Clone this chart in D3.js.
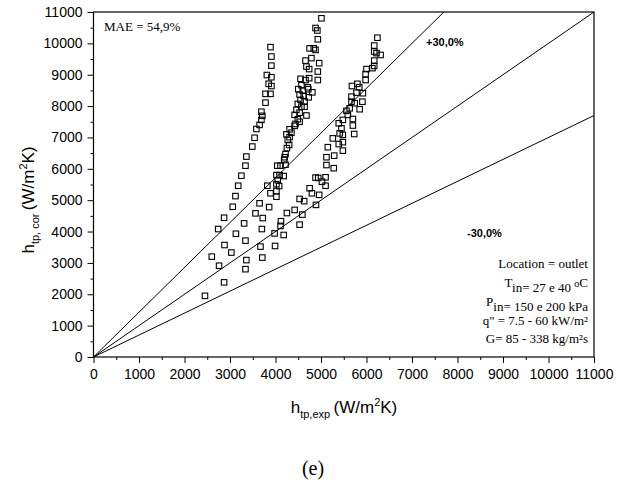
<!DOCTYPE html>
<html lang="en">
<head>
<meta charset="UTF-8" />
<title>h_tp,cor vs h_tp,exp</title>
<script src="https://d3js.org/d3.v7.min.js"></script>
<style>
    body { margin: 0; background: #fff; }
    .tick text { font-family: "Liberation Sans", Arial, sans-serif; font-size: 14px; fill: #000; }
    .tick line { stroke: #000; stroke-width: 1px; }
    .note { font-family: "Liberation Serif", "Times New Roman", serif; font-size: 13px; fill: #000; }
    .axis-title { font-family: "Liberation Sans", Arial, sans-serif; font-size: 17px; fill: #000; }
    .band-label { font-family: "Liberation Sans", Arial, sans-serif; font-size: 11px; font-weight: bold; fill: #000; }
</style>
</head>
<body>
<div id="chart"></div>
<script>
    // axis ticks (W/m2K)
    const majorTicks = [0, 1000, 2000, 3000, 4000, 5000, 6000, 7000, 8000, 9000, 10000, 11000];
    const minorTicks = [500, 1500, 2500, 3500, 4500, 5500, 6500, 7500, 8500, 9500, 10500];

    // deviation lines: h_cor = ratio * h_exp
    const bandRatios = [1 / 0.7, 1, 0.7];

    // [h_tp,exp , h_tp,cor]
    const leftGroup = [
        [3890, 9880], [3910, 9580], [3910, 9290], [3810, 8990], [3910, 8920], [3850, 8710],
        [3910, 8640], [3780, 8390], [3890, 8390], [3780, 8110], [3690, 7820], [3710, 7690],
        [3690, 7560], [3650, 7400], [3580, 7270], [3540, 6990], [3490, 6710], [3360, 6390],
        [3340, 6100], [3250, 5780], [3180, 5460], [3120, 5130], [3060, 4790], [2870, 4440],
        [2740, 4080], [2880, 3570], [2600, 3200], [2760, 2910], [2870, 2380], [2450, 1950],
        [3030, 3330], [3130, 3930], [3310, 4260], [3340, 3710], [3360, 3090], [3340, 2800]
    ];

    const middleGroup = [
        [5010, 10800], [4880, 10490], [4920, 10410], [4930, 10130], [4750, 9840], [4840, 9840],
        [4880, 9790], [4660, 9450], [4790, 9530], [4960, 9370], [4680, 9260], [4740, 9180],
        [4930, 9100], [4550, 8870], [4660, 8830], [4740, 8890], [4930, 8830], [4570, 8670],
        [4710, 8600], [4500, 8540], [4600, 8490], [4720, 8540], [4810, 8440], [4530, 8360],
        [4620, 8330], [4730, 8280], [4550, 8200], [4640, 8140], [4490, 8070], [4570, 7980],
        [4640, 7980], [4460, 7880], [4530, 7790], [4420, 7720], [4680, 7700], [4490, 7580],
        [4530, 7500], [4440, 7430], [4420, 7370], [4310, 7260], [4350, 7150], [4240, 7100],
        [4310, 7010], [4270, 6920], [4300, 6760], [4250, 6660], [4220, 6470], [4200, 6370],
        [4190, 6280], [4110, 6100], [4040, 6100], [4220, 6130], [4020, 5800], [4090, 5800],
        [4180, 5770], [4050, 5640], [4020, 5510], [4080, 5450], [3890, 5220], [4020, 5290],
        [4020, 5110], [3820, 5460], [3860, 4780], [3980, 3940], [3990, 3540], [4180, 3890],
        [4110, 4180], [4120, 4330], [3650, 4900], [3560, 4580], [3720, 4430], [3700, 4080],
        [3670, 3520], [3710, 3170]
    ];

    const rightGroup = [
        [6240, 10180], [6170, 9930], [6170, 9740], [6220, 9690], [6310, 9630], [6170, 9450],
        [6000, 9180], [6130, 9210], [6170, 9280], [5980, 9020], [5980, 8830], [5680, 8640],
        [5800, 8710], [5840, 8600], [5920, 8410], [5670, 8300], [5780, 8430], [5670, 8140],
        [5740, 8090], [5910, 8140], [5560, 7850], [5630, 7930], [5590, 7720], [5850, 7900],
        [5700, 7590], [5480, 7560], [5390, 7450], [5450, 7290], [5700, 7380], [5410, 7130],
        [5480, 7080], [5730, 7110], [5260, 6970], [5390, 6790], [5480, 6850], [5150, 6690],
        [5480, 6580], [5120, 6370], [5290, 6420], [5120, 6120], [5280, 6020], [4880, 5720],
        [4940, 5710], [5100, 5730], [5020, 5590], [5100, 5460], [4750, 5380], [4800, 5220],
        [4960, 5170], [4890, 4850], [4530, 5040], [4630, 4970], [4590, 4540], [4530, 4220],
        [4420, 4690], [4250, 4590]
    ];

    const infoLines = [
        ["Location = outlet"],
        ["T", { sub: "in" }, "= 27 e 40 ", { sup: "o" }, "C"],
        ["P", { sub: "in" }, "= 150 e 200 kPa"],
        ["q\" = 7.5 - 60 kW/m²"],
        ["G= 85 - 338 kg/m²s"]
    ];
    const infoBaselines = [268, 287, 306, 325, 343];

    const W = 628, H = 486;
    const plot = { left: 93.5, right: 594, top: 12, bottom: 357 };

    const svg = d3.select("#chart")
        .append("svg")
        .attr("width", W)
        .attr("height", H);

    const x = d3.scaleLinear().domain([0, 11000]).range([plot.left, plot.right]);
    const y = d3.scaleLinear().domain([0, 11000]).range([plot.bottom, plot.top]);

    svg.append("clipPath")
        .attr("id", "clip")
        .append("rect")
        .attr("x", plot.left)
        .attr("y", plot.top)
        .attr("width", plot.right - plot.left)
        .attr("height", plot.bottom - plot.top);

    // axes
    const xAxisG = svg.append("g")
        .attr("transform", `translate(0,${plot.bottom})`)
        .call(d3.axisBottom(x).tickValues(majorTicks).tickSize(6).tickPadding(6).tickFormat(d3.format("d")));
    xAxisG.select(".domain").remove();

    const xMinorG = svg.append("g")
        .attr("transform", `translate(0,${plot.bottom})`)
        .call(d3.axisBottom(x).tickValues(minorTicks).tickSize(3).tickFormat(""));
    xMinorG.select(".domain").remove();

    const yAxisG = svg.append("g")
        .attr("transform", `translate(${plot.left},0)`)
        .call(d3.axisLeft(y).tickValues(majorTicks).tickSize(6).tickPadding(5).tickFormat(d3.format("d")));
    yAxisG.select(".domain").remove();

    const yMinorG = svg.append("g")
        .attr("transform", `translate(${plot.left},0)`)
        .call(d3.axisLeft(y).tickValues(minorTicks).tickSize(3).tickFormat(""));
    yMinorG.select(".domain").remove();

    svg.append("rect")
        .attr("x", plot.left)
        .attr("y", plot.top)
        .attr("width", plot.right - plot.left)
        .attr("height", plot.bottom - plot.top)
        .attr("fill", "none")
        .attr("stroke", "#000")
        .attr("stroke-width", 1.2);

    // +-30% and 1:1 lines
    const lineG = svg.append("g").attr("clip-path", "url(#clip)");
    bandRatios.forEach(r => {
        lineG.append("line")
            .attr("x1", x(0))
            .attr("y1", y(0))
            .attr("x2", x(11000))
            .attr("y2", y(11000 * r))
            .attr("stroke", "#000")
            .attr("stroke-width", 1);
    });

    // points
    const allPoints = leftGroup.concat(middleGroup, rightGroup);
    const s = 5.5;
    svg.append("g")
        .selectAll("rect")
        .data(allPoints)
        .enter().append("rect")
        .attr("x", d => x(d[0]) - s / 2)
        .attr("y", d => y(d[1]) - s / 2)
        .attr("width", s)
        .attr("height", s)
        .attr("fill", "none")
        .attr("stroke", "#000")
        .attr("stroke-width", 1.1);

    // texts inside the plot
    svg.append("text")
        .attr("class", "note")
        .attr("x", 104)
        .attr("y", 31)
        .text("MAE = 54,9%");

    svg.append("text")
        .attr("class", "band-label")
        .attr("x", 426)
        .attr("y", 46)
        .text("+30,0%");

    svg.append("text")
        .attr("class", "band-label")
        .attr("x", 467)
        .attr("y", 237)
        .text("-30,0%");

    infoLines.forEach((parts, i) => {
        const t = svg.append("text")
            .attr("class", "note")
            .attr("x", 588)
            .attr("y", infoBaselines[i])
            .attr("text-anchor", "end");
        parts.forEach(p => {
            if (typeof p === "string") {
                t.append("tspan").text(p);
            } else if (p.sub) {
                t.append("tspan").attr("dy", 5).attr("font-size", "13px").text(p.sub);
                t.append("tspan").attr("dy", -5).text("");
            } else if (p.sup) {
                t.append("tspan").attr("dy", -5).attr("font-size", "10px").text(p.sup);
                t.append("tspan").attr("dy", 5).text("");
            }
        });
    });

    // axis titles
    function axisTitle(sel, sub) {
        sel.append("tspan").text("h");
        sel.append("tspan").attr("font-size", "11px").attr("dy", 5).text(sub);
        sel.append("tspan").attr("dy", -5).text("\u2009(W/m");
        sel.append("tspan").attr("font-size", "11px").attr("dy", -7).text("2");
        sel.append("tspan").attr("dy", 7).text("K)");
    }

    svg.append("text")
        .attr("class", "axis-title")
        .attr("text-anchor", "middle")
        .attr("transform", "translate(34,200) rotate(-90)")
        .call(axisTitle, "tp, cor");

    svg.append("text")
        .attr("class", "axis-title")
        .attr("text-anchor", "middle")
        .attr("x", 344)
        .attr("y", 413)
        .call(axisTitle, "tp,exp");

    svg.append("text")
        .attr("x", 313)
        .attr("y", 475)
        .attr("text-anchor", "middle")
        .attr("font-family", "'Liberation Serif', 'Times New Roman', serif")
        .attr("font-size", "20px")
        .text("(e)");
</script>
</body>
</html>
